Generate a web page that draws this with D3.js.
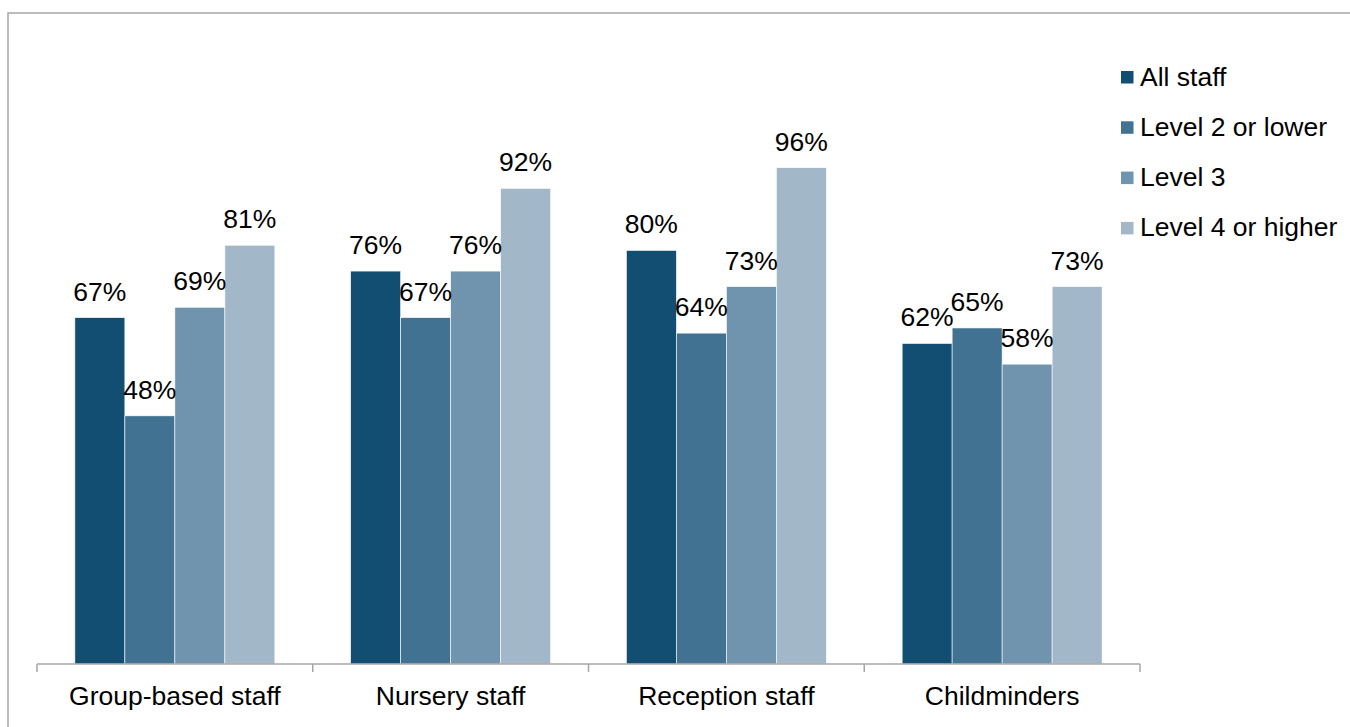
<!DOCTYPE html>
<html>
<head>
<meta charset="utf-8">
<script src="https://cdn.jsdelivr.net/npm/d3@7"></script>
<style>
  html, body { margin: 0; padding: 0; background: #fff; }
  svg { display: block; font-family: "Liberation Sans", Arial, sans-serif; }
</style>
</head>
<body>
<svg id="chart" width="1350" height="727"></svg>
<script>
const categories = ["Group-based staff", "Nursery staff", "Reception staff", "Childminders"];
const seriesNames = ["All staff", "Level 2 or lower", "Level 3", "Level 4 or higher"];
const allStaff = [0.67, 0.76, 0.80, 0.62];
const level2OrLower = [0.48, 0.67, 0.64, 0.65];
const level3 = [0.69, 0.76, 0.73, 0.58];
const level4OrHigher = [0.81, 0.92, 0.96, 0.73];
const seriesColors = ["#124E72", "#417292", "#7094AD", "#A2B8C9"];

const seriesValues = [allStaff, level2OrLower, level3, level4OrHigher];

const svg = d3.select("#chart");

// outer chart border
svg.append("rect")
  .attr("x", 8).attr("y", 13)
  .attr("width", 1400).attr("height", 800)
  .attr("fill", "none")
  .attr("stroke", "#a6a6a6")
  .attr("stroke-width", 1.5);

const x0 = d3.scaleBand().domain(categories).range([37, 1140]).paddingInner(0).paddingOuter(0);
const x1 = d3.scaleBand().domain(seriesNames).range([0, x0.bandwidth()]).paddingInner(0).paddingOuter(0.7575);
const y = d3.scaleLinear().domain([0, 1]).range([664, 147]);
const color = d3.scaleOrdinal().domain(seriesNames).range(seriesColors);

const data = categories.map((c, i) => ({
  category: c,
  values: seriesNames.map((s, j) => ({ series: s, value: seriesValues[j][i] }))
}));

const groups = svg.append("g").selectAll("g")
  .data(data).enter().append("g")
  .attr("transform", d => `translate(${x0(d.category)},0)`);

groups.selectAll("rect")
  .data(d => d.values).enter().append("rect")
  .attr("x", d => x1(d.series))
  .attr("y", d => y(d.value))
  .attr("width", x1.bandwidth())
  .attr("height", d => y(0) - y(d.value))
  .attr("fill", d => color(d.series))
  .attr("stroke", "#ffffff")
  .attr("stroke-width", 0.6);

groups.selectAll("text.val")
  .data(d => d.values).enter().append("text")
  .attr("class", "val")
  .attr("x", d => x1(d.series) + x1.bandwidth() / 2)
  .attr("y", d => y(d.value) - 17)
  .attr("text-anchor", "middle")
  .attr("font-size", "26.5px")
  .attr("fill", "#000")
  .text(d => Math.round(d.value * 100) + "%");

// x axis
const axisG = svg.append("g").attr("transform", "translate(0,664)");
axisG.append("path")
  .attr("d", `M${x0.range()[0]},0H${x0.range()[1]}`)
  .attr("stroke", "#a6a6a6").attr("stroke-width", 1.5).attr("fill", "none");
const boundaries = categories.map(c => x0(c)).concat([x0(categories[categories.length - 1]) + x0.bandwidth()]);
axisG.selectAll("line.tick")
  .data(boundaries).enter().append("line")
  .attr("x1", d => d).attr("x2", d => d)
  .attr("y1", 0).attr("y2", 8)
  .attr("stroke", "#a6a6a6").attr("stroke-width", 1.5);
axisG.selectAll("text.cat")
  .data(categories).enter().append("text")
  .attr("x", d => x0(d) + x0.bandwidth() / 2)
  .attr("y", 41)
  .attr("text-anchor", "middle")
  .attr("font-size", "26.5px")
  .attr("fill", "#000")
  .text(d => d);

// legend
const legend = svg.append("g").selectAll("g")
  .data(seriesNames).enter().append("g")
  .attr("transform", (d, i) => `translate(1121,${71 + i * 50.3})`);
legend.append("rect")
  .attr("width", 12.5).attr("height", 12.5)
  .attr("fill", d => color(d));
legend.append("text")
  .attr("x", 19).attr("y", 14.5)
  .attr("font-size", "26.5px")
  .attr("fill", "#000")
  .text(d => d);
</script>
</body>
</html>
